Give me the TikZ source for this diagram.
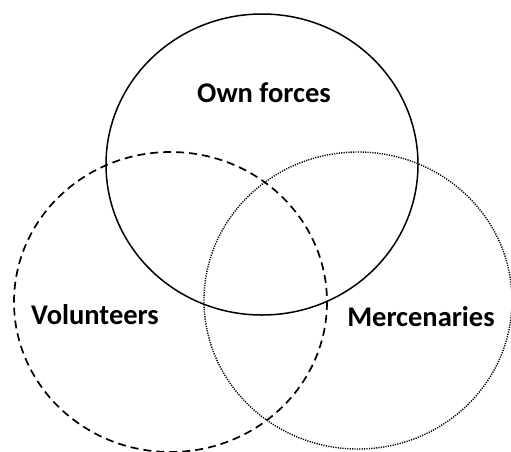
\documentclass[tikz,border=0pt]{standalone}
\usepackage{fontspec}
\setmainfont{Carlito}
\tikzset{
  set/.style={line width=1.5pt},
  lbl/.style={font=\bfseries\fontsize{28.5}{34}\selectfont, inner sep=0pt},
}
\begin{document}
\begin{tikzpicture}[x=1pt,y=-1pt]
\useasboundingbox (0,0) rectangle (511,451);
\draw[set] (262,164.5) ellipse [x radius=156, y radius=150.5];
\draw[set, line width=1.7pt, dash pattern=on 8pt off 5pt] (170.5,302) ellipse [x radius=156.5, y radius=150];
\draw[set, line width=1.4pt, dash pattern=on 1.2pt off 1.2pt] (358,300.5) ellipse [x radius=154, y radius=148.5];
\node[lbl] (own) at (264,93) {Own forces};
\node[lbl] (vol) at (95,315) {Volunteers};
\node[lbl] (mer) at (421,317) {Mercenaries};
\end{tikzpicture}
\end{document}
